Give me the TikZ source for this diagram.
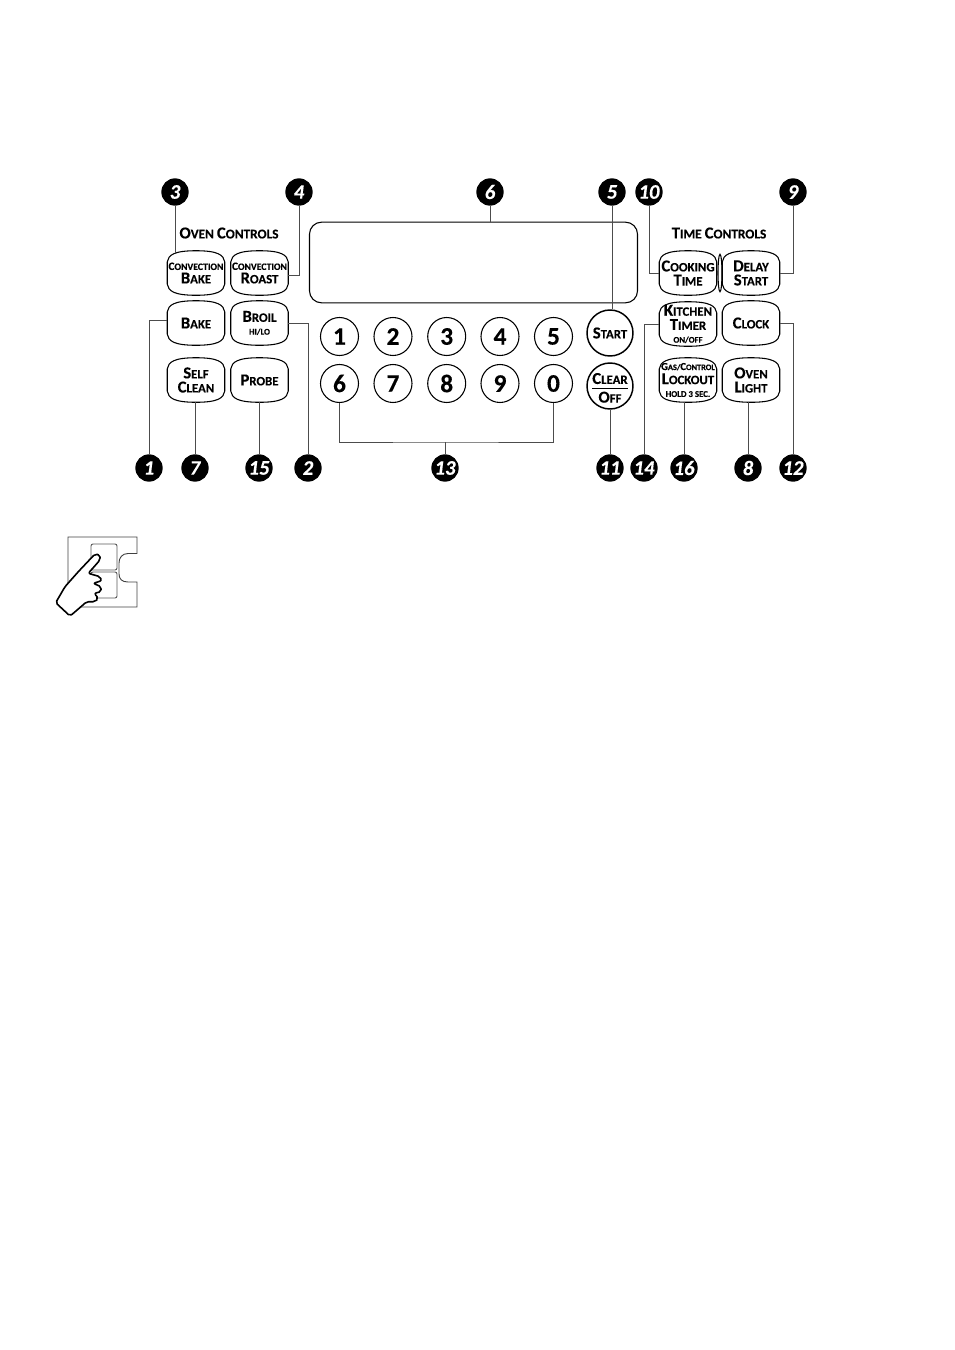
\documentclass[tikz,border=0pt]{standalone}
\usepackage{fontspec}
\setmainfont[FakeBold=0.25]{Carlito}
\AtBeginDocument{\bfseries}
\usetikzlibrary{calc,shapes.geometric}
\newcommand{\cp}[1]{{\fontsize{12.5}{12.5}\selectfont #1}}
\newcommand{\cs}[1]{{\fontsize{7.3}{7.3}\selectfont #1}}
\begin{document}
\begin{tikzpicture}[
    x=0.75pt, y=-0.75pt,
    key/.style={rectangle, minimum width=42.75pt, minimum height=33pt, inner sep=0pt, align=center, font=\fontsize{9.6}{10.6}\selectfont},
    keyline/.style={draw=black, line width=0.8pt},
    digit/.style={circle, draw, line width=0.8pt, minimum size=28.5pt, inner sep=-4pt, font=\fontsize{19}{19}\selectfont},
    roundkey/.style={circle, draw, line width=1.1pt, minimum size=34.5pt, inner sep=-8pt, align=center, font=\fontsize{9.6}{11}\selectfont},
    marker/.style={circle, fill=black, text=white, minimum size=20.5pt, inner sep=-4pt, font=\fontsize{15.5}{15.5}\selectfont\itshape},
    lead/.style={draw=black!70, line width=0.7pt},
    head/.style={font=\fontsize{10}{11}\selectfont, inner sep=0pt}
]
\path (0,0) rectangle (954,1350);

% Oven controls
\node[head] (ovenhead) at (229,233) {\cp{O}VEN \cp{C}ONTROLS};
\node[key] (cbake) at (196,273) {\cs{\fontsize{8.4}{8.4}\selectfont C}\cs{ONVECTION}\\[-0.5pt]\cp{B}AKE};
\node[key] (croast) at (259.5,273) {\cs{\fontsize{8.4}{8.4}\selectfont C}\cs{ONVECTION}\\[-0.5pt]\cp{R}OAST};
\node[key] (bake) at (196,323) {\cp{B}AKE};
\node[key] (broil) at (259.5,323) {\cp{B}ROIL\\[-1pt]{\fontsize{6.5}{6.5}\selectfont HI/LO}};
\node[key] (selfclean) at (196,380) {\cp{S}ELF\\\cp{C}LEAN};
\node[key] (probe) at (259.5,380) {\cp{P}ROBE};

% Time controls
\node[head] (timehead) at (719,233) {\cp{T}IME \cp{C}ONTROLS};
\node[key] (cooking) at (688,273) {\cp{C}OOKING\\\cp{T}IME};
\node[key] (delay) at (751,273) {\cp{D}ELAY\\\cp{S}TART};
\node[key] (kitchen) at (688,324) {\cp{K}ITCHEN\\\cp{T}IMER\\[-1pt]{\fontsize{6.5}{6.5}\selectfont ON/OFF}};
\node[key] (clock) at (751,323) {\cp{C}LOCK};
\node[key] (lockout) at (688,380) {{\fontsize{8}{8}\selectfont G}{\fontsize{6.2}{6.2}\selectfont AS/}{\fontsize{8}{8}\selectfont C}{\fontsize{6.2}{6.2}\selectfont ONTROL}\\\cp{L}OCKOUT\\[-1pt]{\fontsize{6.6}{6.6}\selectfont HOLD 3 SEC.}};
\node[key] (ovenlight) at (751,380) {\cp{O}VEN\\\cp{L}IGHT};

% Barrel outline of the keys
\foreach \b in {cbake,croast,bake,broil,selfclean,probe,cooking,delay,kitchen,clock,lockout,ovenlight}
    \draw[keyline] ($(\b.west)+(0,-11)$) .. controls +(1,-7) and +(-22,0) .. (\b.north) .. controls +(22,0) and +(-1,-7) .. ($(\b.east)+(0,-11)$) -- ($(\b.east)+(0,11)$) .. controls +(-1,7) and +(22,0) .. (\b.south) .. controls +(-22,0) and +(1,7) .. ($(\b.west)+(0,11)$) -- cycle;
\node[ellipse, draw, line width=0.8pt, minimum width=3pt, minimum height=28pt, inner sep=0pt] (gap) at (720,273) {};

% Display
\node[rectangle, draw, line width=0.8pt, rounded corners=9pt, minimum width=246pt, minimum height=60.5pt, inner sep=0pt] (display) at (473.5,262.5) {};

% Number keys
\foreach \n/\x/\y in {1/339.5/336.5,2/393/336.5,3/446.7/336.5,4/500/336.5,5/553.5/336.5,6/339.5/383.5,7/393/383.5,8/446.7/383.5,9/500/383.5,0/553.5/383.5}
    \node[digit] (num\n) at (\x,\y) {\n};

% Round keys
\node[roundkey] (start) at (610,333) {\cp{S}TART};
\node[roundkey] (clear) at (610,386) {\rule{0pt}{9pt}\raisebox{-2pt}{\cp{C}LEAR}\\[-5pt]\rule{27pt}{0.8pt}\\[-1pt]\cp{O}FF};

% Markers
\foreach \n/\m/\x/\y in {three/3/175/192,four/4/299/192,six/6/490/192,five/5/612/192,ten/10/649/192,nine/9/793/192,one/1/149/468,seven/7/195/468,fifteen/15/259/468,two/2/308/468,thirteen/13/445/468,eleven/11/610/468,fourteen/14/644/468,sixteen/16/684/468,eight/8/748/468,twelve/12/793/468}
    \node[marker] (m\n) at (\x,\y) {\m};

% Leaders
\draw[lead] (mthree) -- ([yshift=-1.5pt]mthree |- cbake.north);
\draw[lead] ([yshift=-1.8pt]croast.east) -| (mfour);
\draw[lead] ([yshift=2.2pt]bake.west) -| (mone);
\draw[lead] (mseven |- selfclean.south) -- (mseven);
\draw[lead] (mfifteen |- probe.south) -- (mfifteen);
\draw[lead] (broil.east) -| (mtwo);
\draw[lead] (msix) -- (msix |- display.north);
\draw[lead] (mfive) -- (mfive |- start.north);
\draw[lead] (mten) |- (cooking.west);
\draw[lead] (mnine) |- (delay.east);
\draw[lead] (clear) -- (meleven);
\draw[lead] (mfourteen) |- (kitchen.west);
\draw[lead] (msixteen |- lockout.south) -- (msixteen);
\draw[lead] (meight |- ovenlight.south) -- (meight);
\draw[lead] (mtwelve) |- (clock.east);
\coordinate (numjoin) at (mthirteen |- 0,442);
\draw[lead] (num6) |- (numjoin) -| (num0);
\draw[lead] (numjoin) -- (mthirteen);

% Hand on the key pad
\draw[line width=0.7pt, draw=black!75] (68,537) -- (137,537) -- (137,553.5) -- (128,553.5) .. controls (122,553.5) and (119,558) .. (119,563) -- (119,574) .. controls (119,579) and (122,582) .. (128,582) -- (137,582) -- (137,607) -- (68,607) -- cycle;
\draw[line width=0.7pt, draw=black!65, rounded corners=1.5pt] (91,544) rectangle (117,570);
\draw[line width=0.7pt, draw=black!65, rounded corners=1.5pt] (91,572) rectangle (117,598);
\draw[line width=1.2pt, fill=white, rounded corners=1.5pt, line join=round] (55.7,602.7) -- (65,586.7) -- (78.3,571.7) -- (95,554) -- (100,555) -- (100,560) -- (88.3,573.3) -- (100,576.7) -- (101.7,580.7) -- (93.3,583.3) -- (101,586.7) -- (101,591.7) -- (94.3,593.3) -- (98.3,598.3) -- (95,601.7) -- (86.7,601.7) -- (73.3,613.3) -- (70,616) -- cycle;

\end{tikzpicture}
\end{document}
